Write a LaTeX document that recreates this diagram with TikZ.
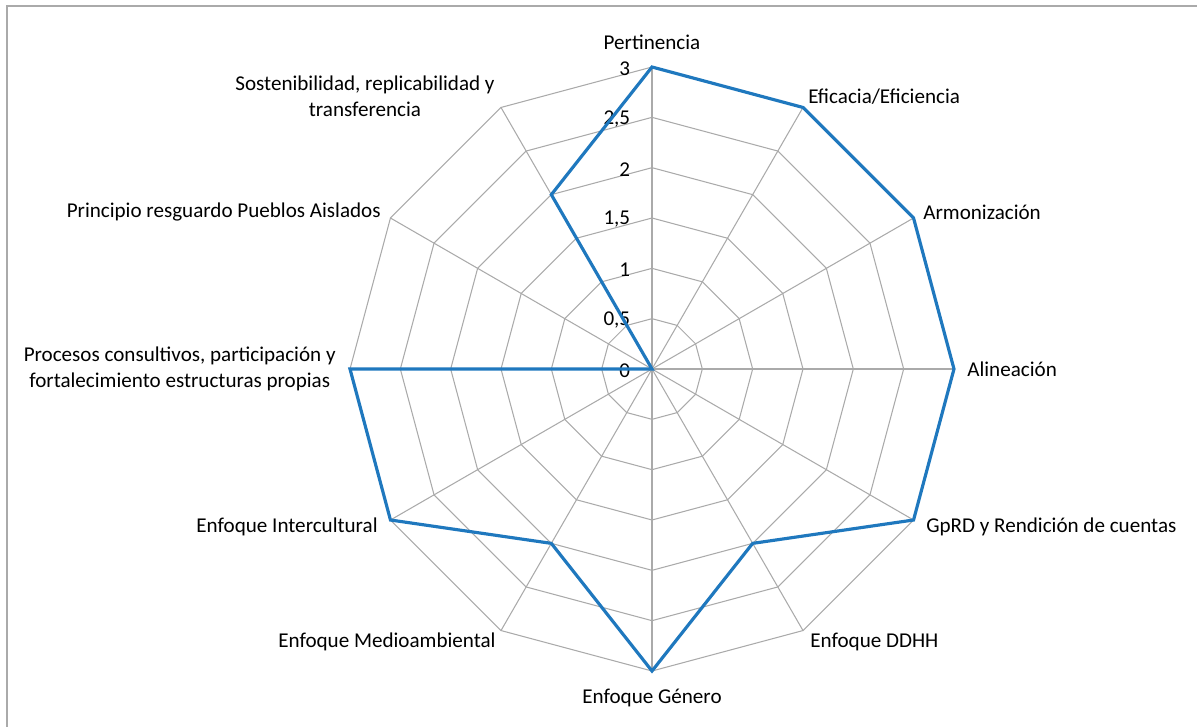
\documentclass[tikz,border=0pt]{standalone}
\usepackage{fontspec}
\setmainfont{Carlito}
\definecolor{serieazul}{RGB}{31,120,190}
\definecolor{rejilla}{RGB}{170,170,170}
\tikzset{
Rejilla/.style={
 draw=rejilla,
 line width=0.6pt
 },
Serie/.style={
 draw=serieazul,
 line width=1.8pt,
 line join=miter
 },
Marco/.style={
 draw=rejilla,
 line width=0.9pt
 },
Etiqueta/.style={
 inner sep=0pt,
 font=\fontsize{12}{14.6}\selectfont
 }
}

\begin{document}
\begin{tikzpicture}
\useasboundingbox (-13.04,-7.16) rectangle (10.9,7.38);
\def\unitR{2.0133}
\draw[Marco] (10.9,7.26) -- (-12.9,7.26) -- (-12.9,-7.16);
% rejilla
\foreach \r in {0.5,1,1.5,2,2.5,3}
 \draw[Rejilla] (90:\r*\unitR) \foreach \a in {60,30,...,-240} { -- (\a:\r*\unitR) } -- cycle;
\foreach \a in {90,60,...,-240}
 \draw[Rejilla] (0,0) -- (\a:3*\unitR);
% escala
\foreach \v/\t [count=\i] in {0/0,0.5/{0,5},1/1,1.5/{1,5},2/2,2.5/{2,5},3/3}
 \node[Etiqueta,anchor=east] (esc\i) at (-0.43,\v*\unitR-0.03) {\t};
% serie
\foreach \a/\v [count=\i] in {90/3,60/3,30/3,0/3,-30/3,-60/2,-90/3,-120/2,-150/3,-180/3,-210/0,-240/2}
 \coordinate (p\i) at (\a:\v*\unitR);
\draw[Serie] (p1) -- (p2) -- (p3) -- (p4) -- (p5) -- (p6) -- (p7) -- (p8) -- (p9) -- (p10) -- (p11) -- (p12) -- cycle;
% ejes
\node[Etiqueta] (pert) at (0,6.54) {Pertinencia};
\node[Etiqueta,anchor=west] (efic) at (3.12,5.44) {Eficacia/Eficiencia};
\node[Etiqueta,anchor=west] (armo) at (5.42,3.14) {Armonización};
\node[Etiqueta,anchor=west] (alin) at (6.30,0) {Alineación};
\node[Etiqueta,anchor=west] (gprd) at (5.48,-3.16) {GpRD y Rendición de cuentas};
\node[Etiqueta,anchor=west] (ddhh) at (3.16,-5.46) {Enfoque DDHH};
\node[Etiqueta] (gene) at (0,-6.58) {Enfoque Género};
\node[Etiqueta,anchor=east] (medio) at (-3.12,-5.46) {Enfoque Medioambiental};
\node[Etiqueta,anchor=east] (inter) at (-5.48,-3.16) {Enfoque Intercultural};
\node[Etiqueta,anchor=east,align=center] (proc) at (-6.32,0) {Procesos consultivos, participación y\\fortalecimiento estructuras propias};
\node[Etiqueta,anchor=east] (prin) at (-5.42,3.14) {Principio resguardo Pueblos Aislados};
\node[Etiqueta,align=center] (sost) at (-5.74,5.45) {Sostenibilidad, replicabilidad y\\transferencia};
\end{tikzpicture}
\end{document}
